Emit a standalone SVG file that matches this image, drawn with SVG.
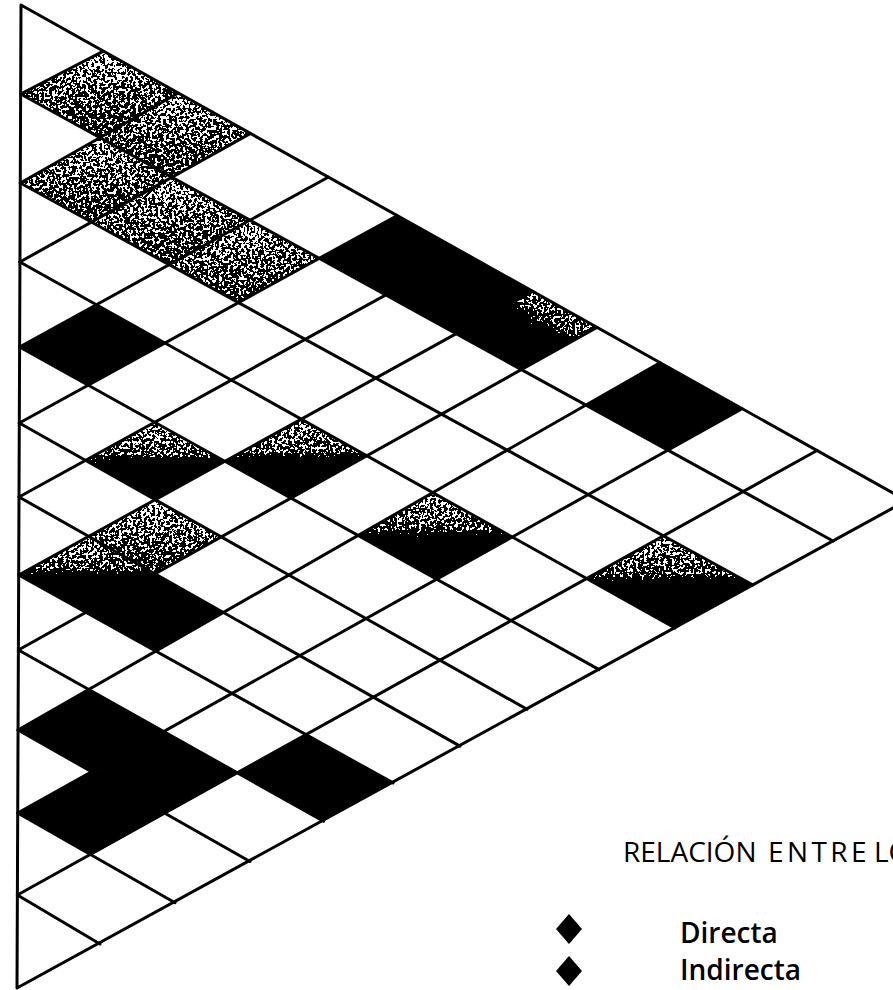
<svg xmlns="http://www.w3.org/2000/svg" width="893" height="990" viewBox="0 0 893 990">
<style>
.ln{fill:none;stroke:#000;stroke-width:3;stroke-linecap:round;stroke-linejoin:round}
.blk{fill:#000}
.half{fill:url(#gHalf)}
.halfR{fill:url(#gRight)}
.gray{fill:url(#gGray)}
.title{font-family:"Open Sans","DejaVu Sans",sans-serif;font-size:28px;fill:#000}
.lab{font-family:"Open Sans","DejaVu Sans",sans-serif;font-size:28px;font-weight:600;fill:#000}
</style>
<defs>
<linearGradient id="gHalf" x1="0" y1="0" x2="0" y2="1">
<stop offset="0" stop-color="#000" stop-opacity="0.48"/>
<stop offset="0.42" stop-color="#000" stop-opacity="0.56"/>
<stop offset="0.56" stop-color="#000" stop-opacity="1"/>
<stop offset="1" stop-color="#000" stop-opacity="1"/>
</linearGradient>
<linearGradient id="gRight" x1="1" y1="0" x2="0" y2="1">
<stop offset="0" stop-color="#000" stop-opacity="0.48"/>
<stop offset="0.35" stop-color="#000" stop-opacity="0.56"/>
<stop offset="0.5" stop-color="#000" stop-opacity="1"/>
<stop offset="1" stop-color="#000" stop-opacity="1"/>
</linearGradient>
<linearGradient id="gGray" x1="0" y1="0" x2="0" y2="1">
<stop offset="0" stop-color="#000" stop-opacity="0.47"/>
<stop offset="1" stop-color="#000" stop-opacity="0.6"/>
</linearGradient>
<filter id="dither" filterUnits="userSpaceOnUse" x="0" y="0" width="893" height="990" color-interpolation-filters="sRGB">
<feTurbulence type="fractalNoise" baseFrequency="0.36" numOctaves="2" seed="4" result="noise"/>
<feColorMatrix in="noise" type="matrix" values="0 0 0 0 0  0 0 0 0 0  0 0 0 0 0  1 0 0 0 0" result="na"/>
<feComposite in="SourceAlpha" in2="na" operator="arithmetic" k1="0" k2="1" k3="1" k4="-0.5" result="sum"/>
<feComponentTransfer in="sum"><feFuncA type="discrete" tableValues="0 1"/></feComponentTransfer>
</filter>
</defs>
<rect width="893" height="990" fill="#fff"/>

<g id="cells-black">
<polygon class="blk" points="396.9,215.7 462.8,252.5 385.8,295.1 319.1,258.5"/>
<polygon class="blk" points="462.8,252.5 532.6,291.5 456.2,333.8 385.8,295.1"/>
<polygon class="blk" points="659.9,362.7 742.1,408.7 667.9,450.2 585.9,405.1"/>
<polygon class="blk" points="96.6,304.8 165.2,343.1 88.7,385.3 19.6,347"/>
<polygon class="blk" points="156,574 224.4,612.7 157,651.4 87.2,612.5"/>
<polygon class="blk" points="90.3,689.6 165,731.8 93.3,771.9 18,730"/>
<polygon class="blk" points="165,731.8 238.4,773.2 166.1,813.5 93.3,771.9"/>
<polygon class="blk" points="93.3,771.9 166.1,813.5 92.1,854.7 17.7,813"/>
<polygon class="blk" points="307,735 393,782.9 323.5,821.2 238.4,773.2"/>
</g>

<g id="cells-stippled" filter="url(#dither)">
<polygon class="gray" points="103,51.4 177.9,93.3 99.6,137.8 20.6,94"/>
<polygon class="gray" points="177.9,93.3 250.1,133.6 171.7,177.4 99.6,137.8"/>
<polygon class="gray" points="99.6,137.8 171.7,177.4 91.4,222.2 20.3,183"/>
<polygon class="gray" points="171.7,177.4 249.8,220.4 169.2,264.8 91.4,222.2"/>
<polygon class="gray" points="249.8,220.4 319.1,258.5 238.5,302.8 169.2,264.8"/>
<polygon class="gray" points="156,499.8 222,537.1 156,574 89.7,536.5"/>
<polygon class="halfR" points="532.6,291.5 596.9,327.5 521.4,369.7 456.2,333.8"/>
<polygon class="half" points="155.3,422.4 225.4,461.4 156,499.8 86.3,460.4"/>
<polygon class="half" points="301.6,419.3 367.2,455.9 291.5,498.2 225.4,461.4"/>
<polygon class="half" points="89.7,536.5 156,574 87.2,612.5 18.7,575"/>
<polygon class="half" points="433.2,492.8 512.6,537.2 437.2,579.4 358.6,535.6"/>
<polygon class="half" points="663.7,536 753,585 675,627.9 587.1,578.8"/>
</g>

<g id="grid">
<polygon class="ln" points="21,5 906.5,500.6 17,988"/>
<path class="ln" d="M20.6,94 L103,51.4 M20.3,183 L177.9,93.3 M19.9,262 L250.1,133.6 M19.6,347 L328.1,177.2 M19.3,423 L396.9,215.7 M19,497 L462.8,252.5 M18.7,575 L532.6,291.5 M18.4,650 L596.9,327.5 M18,730 L659.9,362.7 M17.7,813 L742.1,408.7 M17.4,895 L817,450.5"/>
<path class="ln" d="M20.6,94 L833,541 M20.3,183 L753,585 M19.9,262 L675,627.9 M19.6,347 L599.1,669.6 M19.3,423 L527,709.3 M19,497 L460,746.1 M18.7,575 L393,782.9 M18.4,650 L323.5,821.2 M18,730 L250,861.5 M17.7,813 L175,902.8 M17.4,895 L100,944"/>
</g>

<g id="legend">
<text class="title" x="623" y="862">RELACIÓN <tspan x="768" letter-spacing="3.4">ENTRE</tspan><tspan x="874">LO</tspan></text>
<polygon class="blk" points="569,914 582,929 569,944 556,929"/>
<text class="lab" x="680" y="943">Directa</text>
<polygon class="blk" points="569,956 582,971 569,986 556,971"/>
<text class="lab" x="680" y="980">Indirecta</text>
</g>
</svg>
